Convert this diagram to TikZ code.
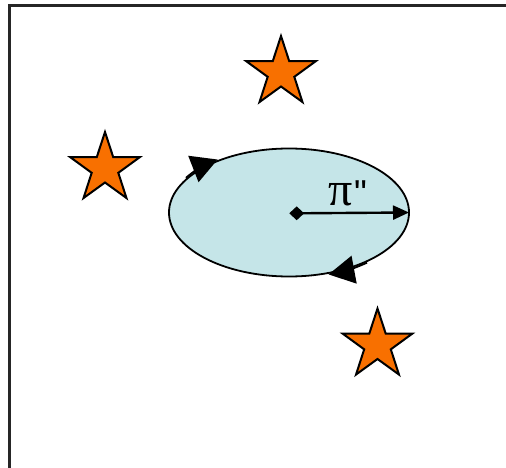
\documentclass[tikz,border=0pt]{standalone}
\usepackage{fontspec}
\setmainfont{Liberation Serif}
\newfontfamily\quotefont{Liberation Sans}
\usetikzlibrary{shapes.geometric,arrows.meta}
\definecolor{starorange}{RGB}{248,112,0}
\definecolor{orbitfill}{RGB}{197,229,232}
\tikzset{
  x=1pt, y=1pt,
  frameline/.style={line width=2.4pt, draw=black!85},
  starfill/.style={fill=starorange, draw=black, line width=2pt, line join=miter},
  orangestar/.pic={
    \draw[starfill] (90:36.5) -- (126:14) -- (162:36.5) -- (198:14) -- (234:36.5)
      -- (270:14) -- (306:36.5) -- (342:14) -- (18:36.5) -- (54:14) -- cycle;
  },
  orbit/.style={ellipse, draw=black, line width=1.8pt, fill=orbitfill,
    minimum width=240pt, minimum height=128pt, inner sep=0pt, outer sep=0pt},
  flowarrow/.style={line width=1.8pt, -{Triangle[length=26pt,width=28pt]}},
  radiusarrow/.style={line width=2.4pt, -{Triangle[length=16pt,width=14pt]}},
  centremark/.style={diamond, fill=black, inner sep=0pt, minimum width=15pt, minimum height=14pt},
}
\begin{document}
\begin{tikzpicture}
  \useasboundingbox (0,0) rectangle (506,-468);
  % open frame running off the right and bottom edges
  \draw[frameline] (9.5,-490) -- (9.5,-5.5) -- (530,-5.5);

  % stars
  \pic (s1) at (281,-72.5) {orangestar};
  \pic (s2) at (105,-168.5) {orangestar};
  \pic (s3) at (377.5,-345) {orangestar};

  % orbit
  \node[orbit] (orb) at (289,-212.5) {};
  \node[centremark] (c) at (296.7,-213.3) {};
  \draw[radiusarrow] (c.center) -- (orb.east);
  \node[anchor=base, inner sep=0pt, font=\fontsize{48}{48}\selectfont] (lbl) at (348,-205.5)
    {π\kern1pt{\quotefont\fontsize{36}{36}\selectfont\symbol{"22}}};

  % direction of circulation
  \draw[flowarrow] ([shift={(148:121.5 and 65.5)}]orb.center)
    arc[start angle=148, end angle=126, x radius=121.5, y radius=65.5];
  \draw[flowarrow] ([shift={(-50:121.5 and 65.5)}]orb.center)
    arc[start angle=-50, end angle=-71, x radius=121.5, y radius=65.5];
\end{tikzpicture}
\end{document}
